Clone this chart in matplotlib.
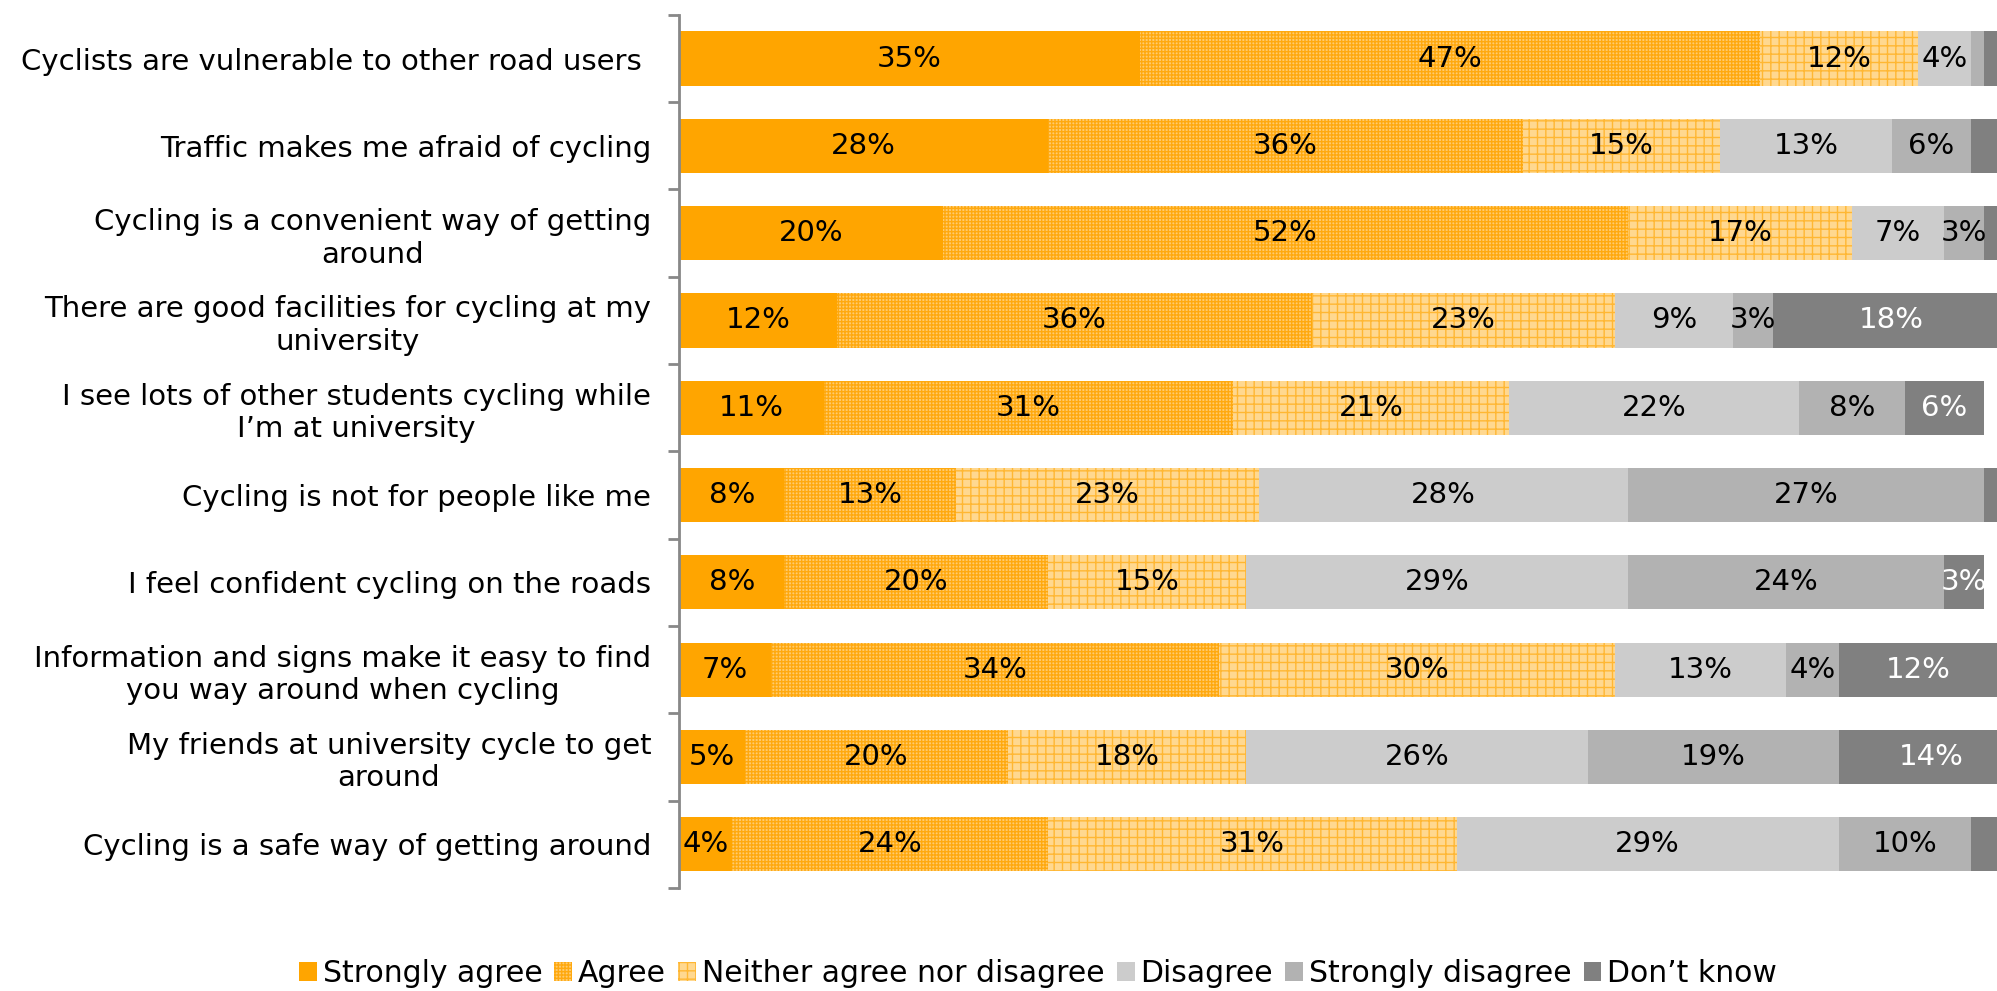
import numpy as np
import matplotlib.pyplot as plt

plt.rcParams['font.family'] = ['DejaVu Sans']
plt.rcParams['hatch.linewidth'] = 1.0

statements = [
    'Cyclists are vulnerable to other road users ',
    'Traffic makes me afraid of cycling',
    'Cycling is a convenient way of getting\naround',
    'There are good facilities for cycling at my\nuniversity',
    'I see lots of other students cycling while\nI\u2019m at university',
    'Cycling is not for people like me',
    'I feel confident cycling on the roads',
    'Information and signs make it easy to find\nyou way around when cycling',
    'My friends at university cycle to get\naround',
    'Cycling is a safe way of getting around',
]

strongly_agree = [35, 28, 20, 12, 11, 8, 8, 7, 5, 4]
agree = [47, 36, 52, 36, 31, 13, 20, 34, 20, 24]
neither = [12, 15, 17, 23, 21, 23, 15, 30, 18, 31]
disagree = [4, 13, 7, 9, 22, 28, 29, 13, 26, 29]
strongly_disagree = [1, 6, 3, 3, 8, 27, 24, 4, 19, 10]
dont_know = [1, 2, 1, 18, 6, 2, 3, 12, 14, 2]

responses = ['Strongly agree', 'Agree', 'Neither agree nor disagree',
             'Disagree', 'Strongly disagree', 'Don\u2019t know']
series = [strongly_agree, agree, neither, disagree, strongly_disagree, dont_know]

# face colour, hatch colour, hatch pattern, label colour
styles = [
    ('#FFA500', '#FFA500', None, 'black'),
    ('#FFCB6E', '#FFA90F', '+++++', 'black'),
    ('#FFD890', '#FFB733', '++', 'black'),
    ('#CCCCCC', '#CCCCCC', None, 'black'),
    ('#B2B2B2', '#B2B2B2', None, 'black'),
    ('#808080', '#808080', None, 'white'),
]

fig = plt.figure(figsize=(19.97, 9.91), dpi=100)
ax = fig.add_axes([0.34, 0.104, 0.66, 0.881])

y = np.arange(len(statements))
left = np.zeros(len(statements))
handles = []
for name, vals, (fc, hc, hatch, tc) in zip(responses, series, styles):
    vals = np.array(vals, dtype=float)
    bars = ax.barh(y, vals, left=left, height=0.62, color=fc, edgecolor=hc,
                   hatch=hatch, linewidth=0, label=name)
    handles.append(bars)
    for yi, l, v in zip(y, left, vals):
        if v >= 3:
            ax.text(l + v / 2, yi, '%d%%' % v, ha='center', va='center',
                    fontsize=21, color=tc, clip_on=True)
    left += vals

ax.set_xlim(0, 100)
ax.set_ylim(len(statements) - 0.5, -0.5)
ax.set_xticks([])
ax.set_yticks(y)
ax.set_yticklabels(statements, fontsize=21, multialignment='center')
ax.tick_params(axis='y', which='major', length=0, pad=20)
ax.set_yticks(np.arange(len(statements) + 1) - 0.5, minor=True)
ax.tick_params(axis='y', which='minor', length=8, width=2, color='#888888')
for s in ['top', 'right', 'bottom']:
    ax.spines[s].set_visible(False)
ax.spines['left'].set_color('#888888')
ax.spines['left'].set_linewidth(2)

fig.legend(handles, responses, loc='center', bbox_to_anchor=(1038 / 1997, 1 - 974 / 991),
           ncol=6, frameon=False, fontsize=21.5, handlelength=0.6, handleheight=0.6,
           handletextpad=0.2, columnspacing=0.4)

fig.savefig('out.png', dpi=100)
